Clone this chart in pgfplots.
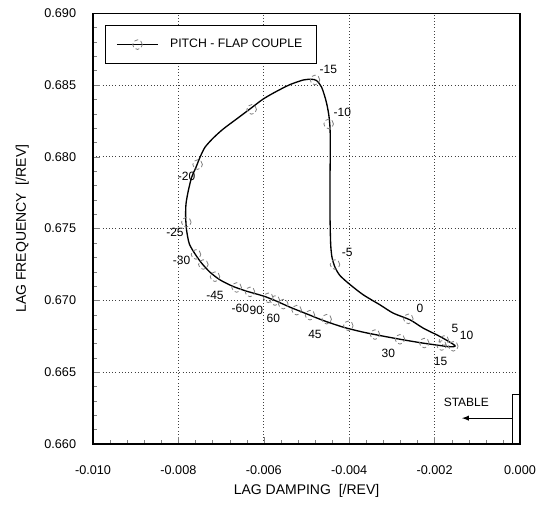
\documentclass[border=0pt]{standalone}
\usepackage{pgfplots}
\pgfplotsset{compat=1.18}
\usepackage{fontspec}
\setmainfont{Liberation Sans}
\begin{document}
\begin{tikzpicture}
\begin{axis}[
  name=ax,
  scale only axis,
  width=320.25pt, height=323.1pt,
  xmin=-0.010, xmax=0.000,
  ymin=0.660, ymax=0.690,
  xtick={-0.010,-0.008,-0.006,-0.004,-0.002,0.000},
  xticklabels={-0.010,-0.008,-0.006,-0.004,-0.002,0.000},
  ytick={0.660,0.665,0.670,0.675,0.680,0.685,0.690},
  yticklabels={0.660,0.665,0.670,0.675,0.680,0.685,0.690},
  minor tick num=4,
  tick pos=left,
  tick align=inside,
  major tick length=5pt,
  minor tick length=3pt,
  xticklabel style={anchor=center, inner sep=0pt, yshift=-19.5pt, font=\fontsize{9.5}{11}\selectfont},
  yticklabel style={anchor=east, inner sep=0pt, xshift=-12.5pt, font=\fontsize{9.5}{11}\selectfont},
  grid=major,
  major grid style={dotted, black!75, line width=0.6pt},
  axis line style={line width=0.8pt},
  xlabel={LAG DAMPING\ \ [/REV]},
  ylabel={LAG FREQUENCY\ \ [/REV]},
  every axis x label/.style={at={(axis description cs:0.5,-0.108)}, anchor=center, font=\fontsize{10.5}{12}\selectfont},
  every axis y label/.style={at={(axis description cs:-0.1655,0.5)}, anchor=center, rotate=90, font=\fontsize{10.5}{12}\selectfont},
  clip=false,
  legend style={at={(0.028,0.973)}, anchor=north west, draw=black, line width=0.8pt,
    inner xsep=8pt, inner ysep=8pt, font=\fontsize{9.2}{11}\selectfont,
    nodes={inner sep=2.5pt}},
  legend cell align=left,
]
\addplot[black, line width=1pt, smooth, tension=0.45, forget plot] table {
x y
-0.005972 0.670269
-0.005699 0.669944
-0.005387 0.669527
-0.004996 0.669062
-0.004606 0.668599
-0.004138 0.668134
-0.003669 0.667786
-0.003201 0.667508
-0.002733 0.667253
-0.002264 0.667021
-0.001874 0.666858
-0.001640 0.666766
-0.001523 0.666858
-0.001874 0.667485
-0.002264 0.668065
-0.002576 0.668645
-0.002967 0.669109
-0.003279 0.669689
-0.003669 0.670385
-0.003982 0.671104
-0.004216 0.671731
-0.004333 0.672311
-0.004403 0.673007
-0.004434 0.673935
-0.004450 0.676023
-0.004450 0.678343
-0.004442 0.680664
-0.004450 0.682056
-0.004481 0.682984
-0.004544 0.683912
-0.004645 0.684840
-0.004762 0.685304
-0.004879 0.685397
-0.005074 0.685350
-0.005387 0.685026
-0.005699 0.684561
-0.006011 0.684028
-0.006323 0.683332
-0.006636 0.682636
-0.006948 0.681940
-0.007182 0.681313
-0.007377 0.680664
-0.007494 0.679967
-0.007588 0.679271
-0.007689 0.678575
-0.007767 0.677647
-0.007822 0.676719
-0.007830 0.675791
-0.007807 0.674863
-0.007744 0.673935
-0.007611 0.673239
-0.007455 0.672589
-0.007260 0.671963
-0.007026 0.671429
-0.006714 0.670965
-0.006401 0.670640
-0.006128 0.670408
-0.005972 0.670269
};
\addplot[only marks, mark=o, mark size=3.6pt, mark options={black!50, densely dashed, line width=0.6pt},
  legend image code/.code={
    \draw[black, line width=1pt] (0pt,0pt) -- (31pt,0pt);
    \draw[black!50, densely dashed, line width=0.6pt] (15.5pt,0pt) circle (3.6pt);
  }] table {
x y
-0.004801 0.685350
-0.004481 0.682287
-0.004333 0.672496
-0.002615 0.668714
-0.001780 0.667206
-0.001562 0.666803
-0.001835 0.666858
-0.002241 0.667030
-0.002811 0.667290
-0.003396 0.667620
-0.004021 0.668230
-0.004528 0.668690
-0.004918 0.668970
-0.005230 0.669320
-0.005543 0.669740
-0.005738 0.669990
-0.005894 0.670180
-0.006323 0.670590
-0.006636 0.670900
-0.007143 0.671650
-0.007416 0.672500
-0.007588 0.673200
-0.007815 0.675443
-0.007550 0.679457
-0.006284 0.683300
};
\addlegendentry{\hspace{6pt}PITCH - FLAP COUPLE}
\begin{scope}[every node/.style={font=\fontsize{9}{10}\selectfont, inner sep=0pt}]
\node at (axis cs:-0.004489,0.686116) {-15};
\node at (axis cs:-0.004161,0.683100) {-10};
\node at (axis cs:-0.004044,0.673355) {-5};
\node at (axis cs:-0.002342,0.669410) {0};
\node at (axis cs:-0.001523,0.668065) {5};
\node at (axis cs:-0.001250,0.667554) {10};
\node at (axis cs:-0.001858,0.665745) {15};
\node at (axis cs:-0.003084,0.666278) {30};
\node at (axis cs:-0.004801,0.667624) {45};
\node at (axis cs:-0.005777,0.668714) {60};
\node[anchor=east] at (axis cs:-0.006339,0.669424) {-60};
\node[anchor=west] at (axis cs:-0.006339,0.669284) {90};
\node at (axis cs:-0.007143,0.670338) {-45};
\node at (axis cs:-0.007924,0.672775) {-30};
\node at (axis cs:-0.008080,0.674747) {-25};
\node at (axis cs:-0.007807,0.678622) {-20};
\node[font=\fontsize{9}{10}\selectfont] at (axis cs:-0.001257,0.662914) {STABLE};
\end{scope}
\draw[line width=0.8pt] (axis cs:-0.000172,0.660) rectangle (axis cs:0,0.663424);
\draw[line width=0.8pt, -latex] (axis cs:-0.000172,0.6618) -- (axis cs:-0.001358,0.6618);
\end{axis}
\pgfresetboundingbox
\path ([shift={(-69.75pt,-45.75pt)}]ax.south west) rectangle ([shift={(15pt,9.9pt)}]ax.north east);
\end{tikzpicture}
\end{document}
